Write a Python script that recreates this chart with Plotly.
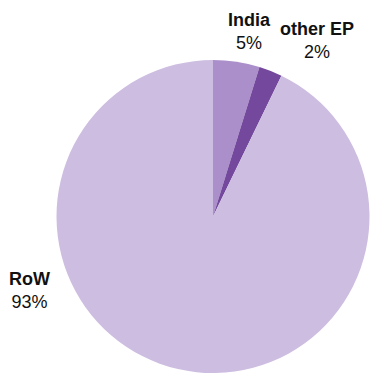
import plotly.graph_objects as go

labels = ["India", "other EP", "RoW"]
values = [4.8, 2.4, 92.8]
pct_text = ["5%", "2%", "93%"]
colors = ["#ab8fca", "#74489c", "#cdbde1"]

W, H = 371, 373
fig = go.Figure(go.Pie(
    labels=labels, values=values, sort=False, direction="clockwise", rotation=0,
    marker=dict(colors=colors, line=dict(width=0)),
    textinfo="none", hoverinfo="label+percent", showlegend=False,
    domain=dict(x=[(213 - 157) / W, (213 + 157) / W], y=[0, 313 / H]),
))

label_pos = [(249, 31), (317, 41), (30, 290)]
for lab, pct, (x, y) in zip(labels, pct_text, label_pos):
    fig.add_annotation(
        x=x / W, y=1 - y / H, xref="paper", yref="paper",
        text=f"<b>{lab}</b><br>{pct}", showarrow=False,
        xanchor="center", yanchor="middle", align="center",
        font=dict(family="Liberation Sans, Arial, sans-serif", size=18, color="#111111"),
    )

fig.update_layout(
    width=W, height=H, margin=dict(l=0, r=0, t=0, b=0),
    paper_bgcolor="white", plot_bgcolor="white",
)
fig.write_html(
    "out.html",
    config={"displayModeBar": False},
    post_script="document.body.style.margin='0';document.body.style.overflow='hidden';",
)
